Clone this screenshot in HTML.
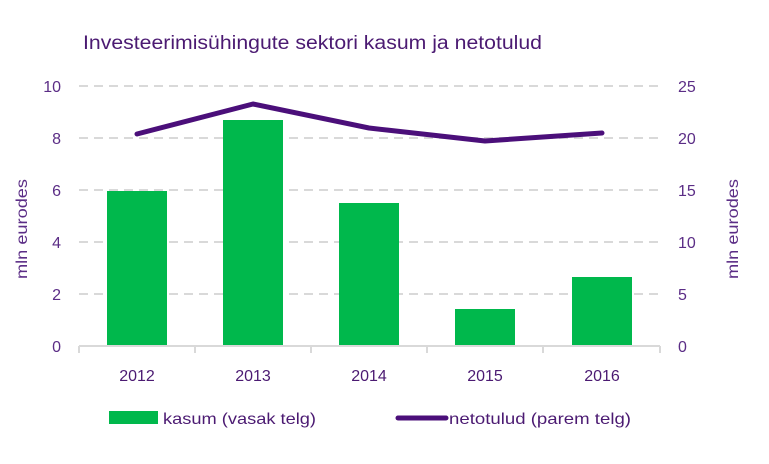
<!DOCTYPE html>
<html><head><meta charset="utf-8"><style>
body{margin:0;background:#fff;}
svg text{font-family:"Liberation Sans",sans-serif;}
</style></head><body>
<svg width="769" height="459" viewBox="0 0 769 459" xmlns="http://www.w3.org/2000/svg">
<rect width="769" height="459" fill="#fff"/>
<text x="83" y="49" font-size="19" fill="#4b1a72" textLength="459" lengthAdjust="spacingAndGlyphs">Investeerimisühingute sektori kasum ja netotulud</text>
<g stroke="#d9d9d9" stroke-width="2" stroke-dasharray="9,6">
<line x1="79" y1="86" x2="660" y2="86"/>
<line x1="79" y1="138" x2="660" y2="138"/>
<line x1="79" y1="190" x2="660" y2="190"/>
<line x1="79" y1="242" x2="660" y2="242"/>
<line x1="79" y1="294" x2="660" y2="294"/>
</g>
<g fill="#00b84c">
<rect x="107" y="191" width="60" height="155"/>
<rect x="223" y="120" width="60" height="226"/>
<rect x="339" y="203" width="60" height="143"/>
<rect x="455" y="309" width="60" height="37"/>
<rect x="572" y="277" width="60" height="69"/>
</g>
<g stroke="#d9d9d9" stroke-width="2">
<line x1="79" y1="346" x2="660" y2="346"/>
<line x1="79" y1="346" x2="79" y2="353"/>
<line x1="195" y1="346" x2="195" y2="353"/>
<line x1="311" y1="346" x2="311" y2="353"/>
<line x1="427" y1="346" x2="427" y2="353"/>
<line x1="543" y1="346" x2="543" y2="353"/>
<line x1="660" y1="346" x2="660" y2="353"/>
</g>
<polyline points="137,134 253,104 369,128 485,141 602,133" fill="none" stroke="#4b0f7a" stroke-width="5" stroke-linejoin="round" stroke-linecap="round"/>
<g font-size="16" fill="#5b2d86" text-anchor="end">
<text x="61" y="92">10</text><text x="61" y="144">8</text><text x="61" y="196">6</text>
<text x="61" y="248">4</text><text x="61" y="300">2</text><text x="61" y="352">0</text>
</g>
<g font-size="16" fill="#5b2d86" text-anchor="start">
<text x="678" y="92">25</text><text x="678" y="144">20</text><text x="678" y="196">15</text>
<text x="678" y="248">10</text><text x="678" y="300">5</text><text x="678" y="352">0</text>
</g>
<g font-size="16" fill="#4b1a72" text-anchor="middle">
<text x="137" y="381">2012</text><text x="253" y="381">2013</text><text x="369" y="381">2014</text>
<text x="485" y="381">2015</text><text x="602" y="381">2016</text>
</g>
<text transform="translate(27,229) rotate(-90)" font-size="16" fill="#5b2d86" text-anchor="middle" textLength="100" lengthAdjust="spacingAndGlyphs">mln eurodes</text>
<text transform="translate(738,229) rotate(-90)" font-size="16" fill="#5b2d86" text-anchor="middle" textLength="100" lengthAdjust="spacingAndGlyphs">mln eurodes</text>
<rect x="109" y="411" width="49" height="13" fill="#00b84c"/>
<text x="163" y="424" font-size="16" fill="#4b1a72" textLength="153" lengthAdjust="spacingAndGlyphs">kasum (vasak telg)</text>
<line x1="398" y1="418" x2="446" y2="418" stroke="#4b0f7a" stroke-width="5" stroke-linecap="round"/>
<text x="449" y="424" font-size="16" fill="#4b1a72" textLength="182" lengthAdjust="spacingAndGlyphs">netotulud (parem telg)</text>
</svg>
</body></html>
